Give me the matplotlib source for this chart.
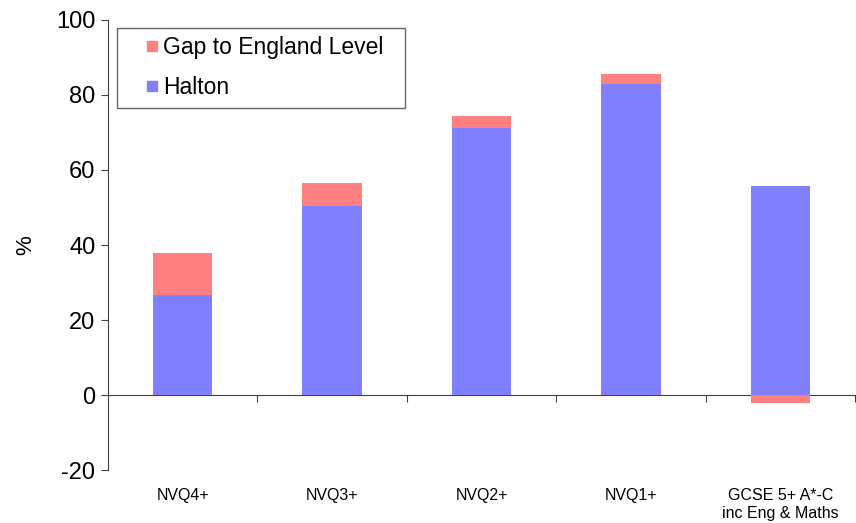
import numpy as np
import matplotlib

matplotlib.use("Agg")
import matplotlib.pyplot as plt
from matplotlib.lines import Line2D

plt.rcParams["font.family"] = ["Liberation Sans", "DejaVu Sans"]
plt.rcParams["axes.unicode_minus"] = False

# Data
categories = ["NVQ4+", "NVQ3+", "NVQ2+", "NVQ1+", "GCSE 5+ A*-C\ninc Eng & Maths"]
halton = [26.6, 50.5, 71.3, 82.9, 55.6]
gap = [11.3, 6.1, 3.0, 2.6, -2.1]

halton_color = "#8080FF"
gap_color = "#FF8080"

fig = plt.figure(figsize=(8.56, 5.23), dpi=100)
ax = fig.add_axes([0.126, 0.101, 0.873, 0.861])

x = np.arange(len(categories))
halton = np.array(halton)
gap = np.array(gap)
gap_bottom = np.where(gap >= 0, halton, 0)

ax.bar(x, halton, width=0.4, color=halton_color, zorder=2)
ax.bar(x, gap, width=0.4, bottom=gap_bottom, color=gap_color, zorder=2)

ax.set_xlim(-0.5, len(categories) - 0.5)
ax.set_ylim(-20, 100)
ax.set_yticks(np.arange(-20, 101, 20))
ax.tick_params(axis="y", labelsize=17, length=5, direction="out",
               color="#404040", pad=4)
ax.set_ylabel("%", fontsize=16, labelpad=14)

# category labels along the bottom
ax.set_xticks(x)
ax.set_xticklabels(categories, fontsize=11.5)
ax.tick_params(axis="x", length=0, pad=13)
ax.spines["bottom"].set_visible(False)
ax.spines["top"].set_visible(False)
ax.spines["right"].set_visible(False)
ax.spines["left"].set_color("#404040")

# zero line with boundary ticks
zero_axis = ax.secondary_xaxis(20 / 120)
zero_axis.set_xticks(np.arange(len(categories)) + 0.5)
zero_axis.set_xticklabels([])
zero_axis.tick_params(length=5, direction="out", color="#404040")
zero_axis.spines["bottom"].set_color("#404040")
zero_axis.spines["top"].set_color("#404040")

handles = [
    Line2D([], [], marker="s", linestyle="none", markersize=7.5,
           markerfacecolor=gap_color, markeredgecolor=gap_color),
    Line2D([], [], marker="s", linestyle="none", markersize=7.5,
           markerfacecolor=halton_color, markeredgecolor=halton_color),
]
leg = ax.legend(handles, ["Gap to England Level", "Halton"], loc="upper left",
                bbox_to_anchor=(0.012, 0.5, 0.386, 0.483), mode="expand",
                fontsize=16.5, frameon=True, fancybox=False,
                edgecolor="#404040", handlelength=2.35, handletextpad=-0.72,
                borderpad=0.38, labelspacing=0.75, borderaxespad=0)
leg.get_frame().set_linewidth(1.0)

fig.savefig("out.png", dpi=100, facecolor="white")
